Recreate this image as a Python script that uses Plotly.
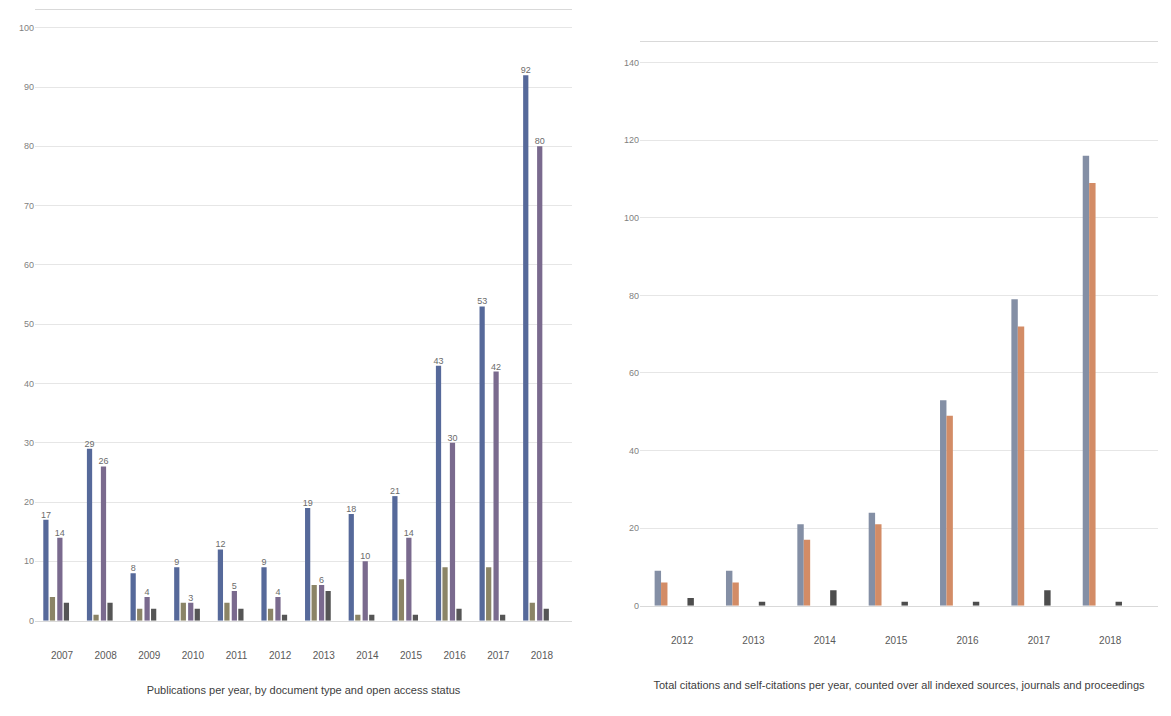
import plotly.graph_objects as go

# ---- left panel: yearly counts, four series ----
left_years = ["2007", "2008", "2009", "2010", "2011", "2012",
              "2013", "2014", "2015", "2016", "2017", "2018"]
left_a = [17, 29, 8, 9, 12, 9, 19, 18, 21, 43, 53, 92]
left_b = [14, 26, 4, 3, 5, 4, 6, 10, 14, 30, 42, 80]
left_c = [4, 1, 2, 3, 3, 2, 6, 1, 7, 9, 9, 3]
left_d = [3, 3, 2, 2, 2, 1, 5, 1, 1, 2, 1, 2]

# ---- right panel: yearly counts, three series ----
right_years = ["2012", "2013", "2014", "2015", "2016", "2017", "2018"]
right_a = [9, 9, 21, 24, 53, 79, 116]
right_b = [6, 6, 17, 21, 49, 72, 109]
right_c = [2, 1, 4, 1, 1, 4, 1]

left_title = "Publications per year, by document type and open access status"
right_title = ("Total citations and self-citations per year, counted over all "
               "indexed sources, journals and proceedings")

W, H = 1171, 716


def fx(px):
    return px / W


def fy(py):
    return 1 - py / H


fig = go.Figure()

lx = list(range(len(left_years)))
rx = list(range(len(right_years)))

lw = 0.12  # bar width in category units (left)
rw = 0.09  # bar width in category units (right)

left_series = [
    (left_a, "#56699a", -0.37, True),
    (left_c, "#8b8466", -0.22, False),
    (left_b, "#7a6a8e", -0.05, True),
    (left_d, "#555555", 0.10, False),
]
for vals, col, ctr, lab in left_series:
    fig.add_trace(go.Bar(
        x=lx, y=vals, width=lw, offset=ctr - lw / 2,
        marker=dict(color=col, line=dict(width=0)),
        text=vals if lab else None, textposition="outside" if lab else None,
        constraintext="none",
        textfont=dict(size=9, color="#6b6b6b", family="Liberation Sans"),
        cliponaxis=False, xaxis="x", yaxis="y", showlegend=False,
    ))

right_series = [
    (right_a, "#848fa5", -0.34),
    (right_b, "#d38c66", -0.25),
    (right_c, "#4d4d4d", 0.12),
]
for vals, col, ctr in right_series:
    fig.add_trace(go.Bar(
        x=rx, y=vals, width=rw, offset=ctr - rw / 2,
        marker=dict(color=col, line=dict(width=0)),
        cliponaxis=False, xaxis="x2", yaxis="y2", showlegend=False,
    ))

tick_font = dict(size=9, color="#7f7f7f", family="Liberation Sans")
cat_font = dict(size=10, color="#595959", family="Liberation Sans")
title_font = dict(size=11, color="#404040", family="Liberation Sans")

fig.update_layout(
    width=W, height=H,
    margin=dict(l=0, r=0, t=0, b=0),
    paper_bgcolor="white", plot_bgcolor="white",
    barmode="overlay",
    xaxis=dict(
        domain=[fx(35), fx(572)], anchor="y",
        tickmode="array", tickvals=lx, ticktext=left_years,
        range=[-0.62, 11.69], showgrid=False,
        showline=True, mirror=True, linecolor="#d9d9d9", linewidth=1,
        ticks="", tickfont=cat_font, ticklabelstandoff=25,
        title=dict(text=left_title, font=title_font, standoff=26),
    ),
    yaxis=dict(
        domain=[fy(625), fy(10)], anchor="x",
        range=[0, 103], tickmode="linear", tick0=0, dtick=10,
        showgrid=True, gridcolor="#e6e6e6", gridwidth=1,
        zeroline=False, showline=False, ticks="", tickfont=tick_font,
    ),
    xaxis2=dict(
        domain=[fx(640), fx(1158)], anchor="y2",
        tickmode="array", tickvals=rx, ticktext=right_years,
        range=[-0.59, 6.67], showgrid=False,
        showline=True, mirror=True, linecolor="#d9d9d9", linewidth=1,
        ticks="", tickfont=cat_font, ticklabelstandoff=25,
        title=dict(text=right_title, font=title_font, standoff=36),
    ),
    yaxis2=dict(
        domain=[fy(610), fy(42)], anchor="x2",
        range=[0, 145.4], tickmode="linear", tick0=0, dtick=20,
        showgrid=True, gridcolor="#e6e6e6", gridwidth=1,
        zeroline=False, showline=False, ticks="", tickfont=tick_font,
    ),
)

fig.write_html("out.html")
